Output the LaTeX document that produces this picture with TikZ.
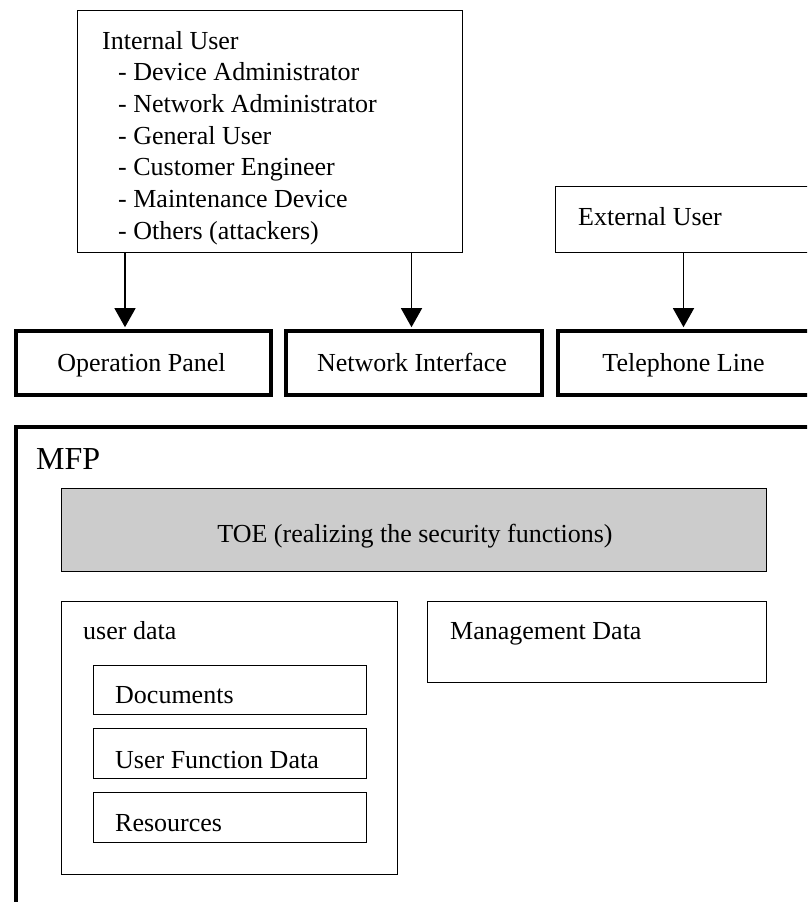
\documentclass[tikz,border=0pt]{standalone}
\usepackage{fontspec}
\setmainfont{Liberation Serif}
\usetikzlibrary{arrows.meta}
\begin{document}
\begin{tikzpicture}[x=1pt,y=-1pt,
  thinbox/.style={draw, line width=1.3pt, inner sep=0pt, anchor=north west},
  thickbox/.style={draw, line width=3.6pt, inner sep=0pt, anchor=north west},
  txt/.style={inner sep=0pt, anchor=base west, font=\fontsize{26}{31.7}\selectfont},
  ctxt/.style={txt, anchor=base},
  link/.style={line width=1.3pt, -{Triangle[length=19pt,width=21pt]}}]
\useasboundingbox (0,0) rectangle (807,902);
\clip (0,0) rectangle (807,902);

% users
\node[thinbox, minimum width=385pt, minimum height=242pt] (internal) at (77,10) {};
\node[txt] (intlist) at (102,49) {\vtop{\baselineskip=31.7pt
  \hbox{Internal User}
  \hbox{\kern16pt - Device Administrator}
  \hbox{\kern16pt - Network Administrator}
  \hbox{\kern16pt - General User}
  \hbox{\kern16pt - Customer Engineer}
  \hbox{\kern16pt - Maintenance Device}
  \hbox{\kern16pt - Others (attackers)}}};

\node[thinbox, minimum width=257pt, minimum height=66pt] (external) at (555,186) {};
\node[txt] (extlabel) at (578,225) {External User};

% interfaces
\node[thickbox, minimum width=255pt, minimum height=64pt] (panel) at (14,329) {};
\node[ctxt] (panellabel) at (141.5,371) {Operation Panel};
\node[thickbox, minimum width=256pt, minimum height=64pt] (netif) at (284,329) {};
\node[ctxt] (netiflabel) at (412,371) {Network Interface};
\node[thickbox, minimum width=256pt, minimum height=64pt] (phone) at (556,329) {};
\node[ctxt] (phonelabel) at (683.5,371) {Telephone Line};

% arrows
\coordinate (c1) at (125,0);
\coordinate (c2) at (411.5,0);
\coordinate (c3) at (683.5,0);
\draw[link] (internal.south -| c1) -- ([yshift=1.8pt]panel.north -| c1);
\draw[link] (internal.south -| c2) -- ([yshift=1.8pt]netif.north -| c2);
\draw[link] (external.south -| c3) -- ([yshift=1.8pt]phone.north -| c3);

% device
\node[thickbox, minimum width=800pt, minimum height=500pt] (mfp) at (14,425) {};
\node[txt, font=\fontsize{32}{38}\selectfont] (mfplabel) at (36,469) {MFP};

\node[thinbox, fill=black!20, minimum width=705pt, minimum height=83pt] (toe) at (61,488) {};
\node[ctxt] (toelabel) at (415,542) {TOE (realizing the security functions)};

\node[thinbox, minimum width=336pt, minimum height=273pt] (userdata) at (61,601) {};
\node[txt] (userdatalabel) at (83,639) {user data};
\node[thinbox, minimum width=273pt, minimum height=49pt] (docs) at (93,665) {};
\node[txt] (docslabel) at (115,703) {Documents};
\node[thinbox, minimum width=273pt, minimum height=50pt] (ufd) at (93,728) {};
\node[txt] (ufdlabel) at (115,768) {User Function Data};
\node[thinbox, minimum width=273pt, minimum height=50pt] (res) at (93,792) {};
\node[txt] (reslabel) at (115,831) {Resources};

\node[thinbox, minimum width=339pt, minimum height=81pt] (mgmt) at (427,601) {};
\node[txt] (mgmtlabel) at (450,639) {Management Data};
\end{tikzpicture}
\end{document}
